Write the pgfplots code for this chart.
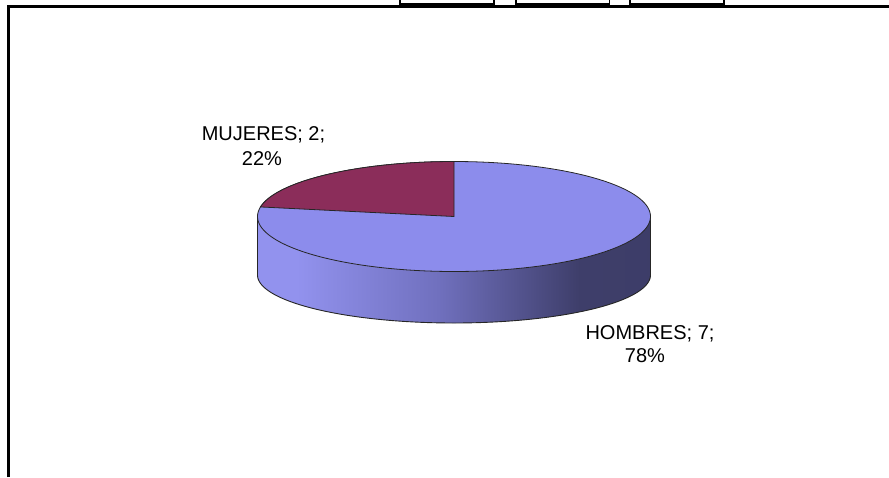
\documentclass[border=0pt]{standalone}
\usepackage{fontspec}
\setmainfont{Liberation Sans}
\usepackage{pgfplots}
\pgfplotsset{compat=1.18}
\usepackage{pgfplotstable}
\definecolor{hom}{HTML}{8C8CEC}
\definecolor{muj}{HTML}{8B2D5A}
\definecolor{sA}{HTML}{9292EE}
\definecolor{sB}{HTML}{7070BE}
\definecolor{sC}{HTML}{3E3E6A}
\definecolor{sD}{HTML}{3B3B64}
\pgfdeclarehorizontalshading{sideshade}{100bp}{color(0bp)=(sA); color(30bp)=(sA); color(48bp)=(sB); color(66bp)=(sC); color(100bp)=(sD)}
\pgfplotstableread{
label value
HOMBRES 7
MUJERES 2
}\piedata
\pgfplotstablegetelem{0}{value}\of\piedata \let\vH\pgfplotsretval
\pgfplotstablegetelem{1}{value}\of\piedata \let\vM\pgfplotsretval
\pgfmathsetmacro{\aM}{90+360*\vM/(\vH+\vM)}
\def\cx{454}\def\cy{216.5}\def\rx{196.5}\def\ry{55}\def\cyb{275}\def\ryb{48}
\begin{document}
\begin{tikzpicture}
\begin{axis}[width=889pt, height=477pt, scale only axis,
  xmin=0, xmax=889, ymin=0, ymax=477, y dir=reverse,
  hide axis, clip=false]
% frame
\addplot[black, line width=3pt, line join=miter] coordinates {(8,477)(8,6)(890,6)};
\addplot[black, line width=1.5pt] coordinates {(400,-2)(400,4)(494,4)(494,-2)};
\addplot[black, line width=1.5pt] coordinates {(516,-2)(516,4)(609.5,4)(609.5,-2)};
\addplot[black, line width=1.5pt] coordinates {(630,-2)(630,4)(724,4)(724,-2)};
% side of the pie
\addplot[draw=none, shading=sideshade, domain=180:360, samples=150]
  ({\cx+\rx*cos(x)},{\cyb-\ryb*sin(x)}) -- (axis cs:650.5,216.5) -- (axis cs:257.5,216.5) -- cycle;
\addplot[draw=black!85, line width=0.9pt, domain=180:360, samples=150]
  ({\cx+\rx*cos(x)},{\cyb-\ryb*sin(x)});
\addplot[black!85, line width=0.8pt] coordinates {(257.5,216.5)(257.5,275)};
\addplot[black!85, line width=0.8pt] coordinates {(650.5,216.5)(650.5,275)};
% top face: HOMBRES
\addplot[fill=hom, draw=black!85, line width=0.8pt, domain=0:360, samples=240]
  ({\cx+\rx*cos(x)},{\cy-\ry*sin(x)}) -- cycle;
% MUJERES slice
\addplot[fill=muj, draw=black!85, line width=0.8pt, domain=90:\aM, samples=80]
  ({\cx+\rx*cos(x)},{\cy-\ry*sin(x)}) -- (axis cs:454,216.5) -- cycle;
% labels
\node[anchor=base, font=\fontsize{20}{24}\selectfont] at (axis cs:263.5,140) {MUJERES; 2;};
\node[anchor=base, font=\fontsize{20}{24}\selectfont] at (axis cs:262,165) {22\%};
\node[anchor=base, font=\fontsize{20}{24}\selectfont] at (axis cs:650,339) {HOMBRES; 7;};
\node[anchor=base, font=\fontsize{20}{24}\selectfont] at (axis cs:645,362) {78\%};
\end{axis}
\pgfresetboundingbox
\path (current axis.south west) rectangle (current axis.north east);
\end{tikzpicture}
\end{document}
